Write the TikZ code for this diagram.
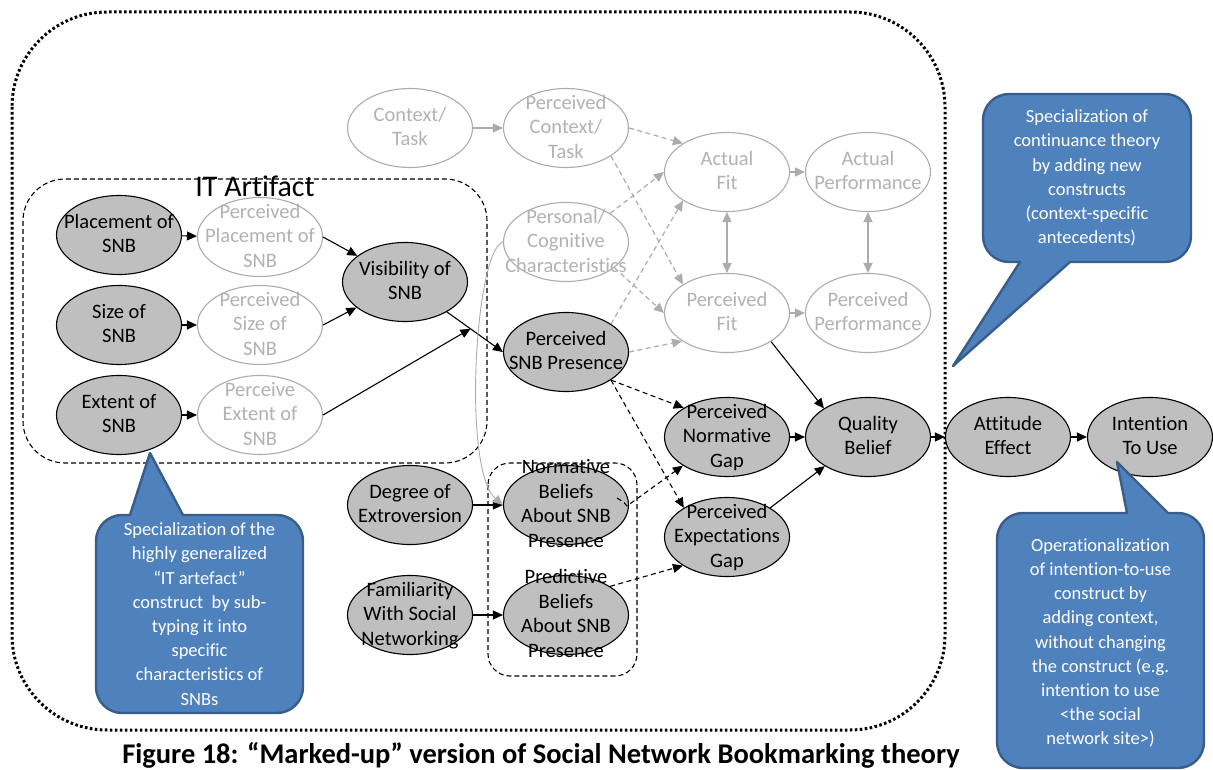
\documentclass[tikz,border=0pt]{standalone}
\usepackage{fontspec}
\setmainfont{Carlito}[Ligatures={NoCommon}]
\usetikzlibrary{arrows.meta,shapes.geometric}

\definecolor{consfill}{RGB}{191,191,191}
\definecolor{ghostline}{RGB}{172,172,172}
\definecolor{ghosttext}{RGB}{178,178,178}
\definecolor{calloutfill}{RGB}{79,129,189}
\definecolor{calloutline}{RGB}{56,93,138}

% centred multi-line label that does not enlarge the ellipse
\newcommand\elltext[1]{\smash{\makebox[0pt]{\raisebox{-6pt}{\begin{tabular}{@{}c@{}}#1\end{tabular}}}}}

\begin{document}
\begin{tikzpicture}[x=1pt,y=-1pt,
  nodefont/.style={font=\fontsize{20.5}{24.5}\selectfont},
  cons/.style={ellipse, draw=black, fill=consfill, line width=1.1pt,
    minimum width=125pt, minimum height=79pt, inner sep=0pt, nodefont},
  ghost/.style={cons, draw=ghostline, fill=white, text=ghosttext},
  link/.style={line width=1.1pt, -{Triangle[length=10pt,width=9pt]}},
  dlink/.style={link, dash pattern=on 5pt off 3.5pt},
  glink/.style={link, color=ghostline, line width=1.2pt},
  gdlink/.style={glink, dash pattern=on 5pt off 3.5pt},
  gboth/.style={glink, {Triangle[length=10pt,width=9pt]}-{Triangle[length=10pt,width=9pt]}},
  groupbox/.style={line width=1.1pt, dash pattern=on 5pt off 3pt},
  callout/.style={fill=calloutfill, draw=calloutline, line width=2.4pt, line join=round},
  callouttext/.style={text=white, align=center, font=\fontsize{18.5}{24.2}\selectfont}
]
\useasboundingbox (0,0) rectangle (1213,770);

% outer dotted boundary and the two dashed groupings
\draw[line width=3pt, dash pattern=on 2.6pt off 2.4pt, rounded corners=95pt] (12,12) rectangle (945,730);
\draw[groupbox, rounded corners=42pt] (23,179) rectangle (487,463);
\draw[groupbox, rounded corners=22pt] (488,463) rectangle (637,676);
\node[font=\fontsize{30}{36}\selectfont] (itlabel) at (255,186) {IT Artifact};

% constructs
\node[cons]  (pl)  at (119,235) {\elltext{Placement of\\SNB}};
\node[ghost] (ppl) at (260,237) {\elltext{Perceived\\Placement of\\SNB}};
\node[cons]  (sz)  at (119,325) {\elltext{Size of\\SNB}};
\node[ghost] (psz) at (260,325) {\elltext{Perceived\\Size of\\SNB}};
\node[cons]  (ex)  at (119,415) {\elltext{Extent of\\SNB}};
\node[ghost] (pex) at (260,415) {\elltext{Perceive\\Extent of\\SNB}};
\node[cons]  (vis) at (405,282) {\elltext{Visibility of\\SNB}};

\node[ghost] (ct)  at (410,128) {\elltext{Context/\\Task}};
\node[ghost] (pct) at (566,128) {\elltext{Perceived\\Context/\\Task}};
\node[ghost] (pcc) at (566,242) {\elltext{Personal/\\Cognitive\\Characteristics}};
\node[cons]  (psp) at (566,352) {\elltext{Perceived\\SNB Presence}};

\node[ghost] (af)  at (727,172) {\elltext{Actual\\Fit}};
\node[ghost] (pf)  at (727,313) {\elltext{Perceived\\Fit}};
\node[ghost] (ap)  at (868,172) {\elltext{Actual\\Performance}};
\node[ghost] (pp)  at (868,313) {\elltext{Perceived\\Performance}};

\node[cons]  (png) at (727,437) {\elltext{Perceived\\Normative\\Gap}};
\node[cons]  (peg) at (727,537) {\elltext{Perceived\\Expectations\\Gap}};
\node[cons]  (qb)  at (868,437) {\elltext{Quality\\Belief}};
\node[cons]  (ae)  at (1008,437) {\elltext{Attitude\\Effect}};
\node[cons]  (itu) at (1150,437) {\elltext{Intention\\To Use}};

\node[cons]  (doe) at (410,505) {\elltext{Degree of\\Extroversion}};
\node[cons]  (fam) at (410,615) {\elltext{Familiarity\\With Social\\Networking}};
\node[cons]  (nb)  at (566,505) {\elltext{Normative\\Beliefs\\About SNB\\Presence}};
\node[cons]  (pb)  at (566,615) {\elltext{Predictive\\Beliefs\\About SNB\\Presence}};

% solid black paths
\draw[link] (pl) -- (ppl);
\draw[link] (sz) -- (psz);
\draw[link] (ex) -- (pex);
\draw[link] (ppl.east) -- (vis);
\draw[link] (psz.east) -- (vis);
\draw[link] (vis) -- (psp.west) coordinate[pos=0.42] (vmid);
\draw[link] (pex.east) -- (vmid);
\draw[link] (doe) -- (nb);
\draw[link] (fam) -- (pb);
\draw[link] (png) -- (qb);
\draw[link] (peg.34) -- (qb.-146);
\draw[link] (pf.-33) -- (qb.147);
\draw[link] (qb) -- (ae);
\draw[link] (ae) -- (itu);

% dashed black paths
\draw[dlink] (psp.-32) -- (png.146);
\draw[dlink] (psp.-32) -- (peg.146);
\draw[dlink] ([shift={(51,-7)}]nb.center) .. controls ([shift={(59,-2)}]nb.center) .. ([shift={(61,1)}]nb.center) -- (png.-147);
\draw[dlink] (pb.33) -- (peg.-147);

% grey paths of the original model
\draw[glink] (ct) -- (pct);
\draw[gdlink] (pct.east) -- (af.147);
\draw[gdlink] (pct.-32) -- (pf.147);
\draw[gdlink] (pcc.33) -- (af.west);
\draw[gdlink] (pcc.-28) -- (pf.west);
\draw[gdlink] (psp.32) -- (af.-147);
\draw[gdlink] (psp.east) -- (pf.-148);
\draw[gboth] (af) -- (pf);
\draw[gboth] (ap) -- (pp);
\draw[glink] (af) -- (ap);
\draw[glink] (pf) -- (pp);
\draw[glink, line width=0.9pt] (pcc.west) .. controls (475,250) and (462,470) .. (nb.west);

% callouts: rounded boxes with a pointer, corners built from curves
\draw[callout] (150,453) -- (183,515) -- (277,515)
  .. controls (291.4,515) and (303,526.6) .. (303,541) -- (303,687)
  .. controls (303,701.4) and (291.4,713) .. (277,713) -- (122,713)
  .. controls (107.6,713) and (96,701.4) .. (96,687) -- (96,541)
  .. controls (96,526.6) and (107.6,515) .. (122,515) -- (130,515) -- cycle;
\node[callouttext] (noteart) at (199.5,614) {Specialization of the\\highly generalized\\“IT artefact”\\construct\ \ by sub-\\typing it into\\specific\\characteristics of\\SNBs};

\draw[callout] (953,366) -- (1020,262) -- (1009,262)
  .. controls (994.6,262) and (983,250.4) .. (983,236) -- (983,120)
  .. controls (983,105.6) and (994.6,94) .. (1009,94) -- (1165,94)
  .. controls (1179.4,94) and (1191,105.6) .. (1191,120) -- (1191,236)
  .. controls (1191,250.4) and (1179.4,262) .. (1165,262) -- (1070,262) -- cycle;
\node[callouttext] (notecont) at (1087,178) {Specialization of\\continuance theory\\by adding new\\constructs\\(context-specific\\antecedents)};

\draw[callout] (1117,462) -- (1168,513) -- (1178,513)
  .. controls (1192.4,513) and (1204,524.6) .. (1204,539) -- (1204,742)
  .. controls (1204,756.4) and (1192.4,768) .. (1178,768) -- (1023,768)
  .. controls (1008.6,768) and (997,756.4) .. (997,742) -- (997,539)
  .. controls (997,524.6) and (1008.6,513) .. (1023,513) -- (1127,513) -- cycle;
\node[callouttext] (noteop) at (1100.5,643) {Operationalization\\of intention-to-use\\construct by\\adding context,\\without changing\\the construct (e.g.\\intention to use\\<the social\\network site>)};

% caption
\node[font=\fontsize{28.5}{32}\selectfont\bfseries] (caption) at (541,755) {Figure 18: “Marked-up” version of Social Network Bookmarking theory};
\end{tikzpicture}
\end{document}
